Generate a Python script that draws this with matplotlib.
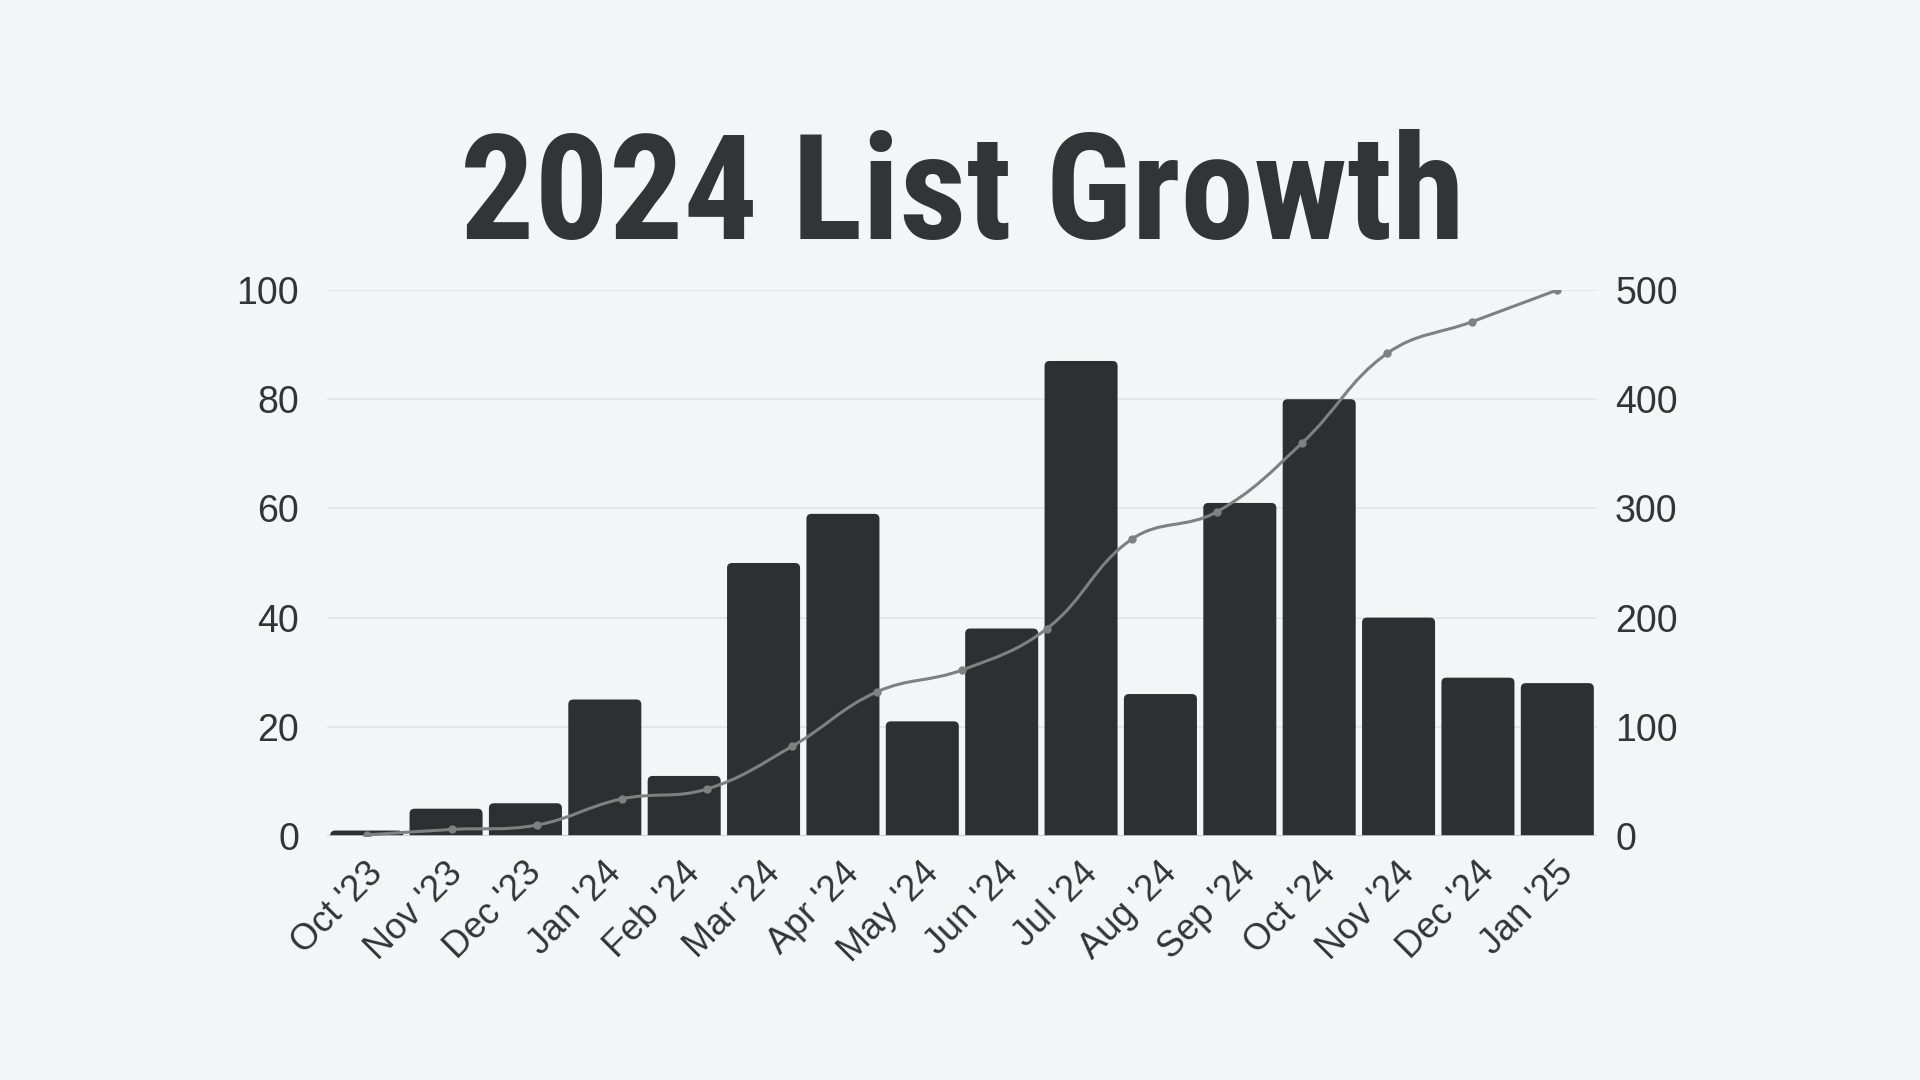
import matplotlib

matplotlib.use("Agg")
import matplotlib.pyplot as plt
import numpy as np
from matplotlib import font_manager
from matplotlib.path import Path
from matplotlib.patches import FancyBboxPatch, PathPatch
from matplotlib.transforms import ScaledTranslation

months = ["Oct '23", "Nov '23", "Dec '23", "Jan '24", "Feb '24", "Mar '24",
          "Apr '24", "May '24", "Jun '24", "Jul '24", "Aug '24", "Sep '24",
          "Oct '24", "Nov '24", "Dec '24", "Jan '25"]
new_subs = [1, 5, 6, 25, 11, 50, 59, 21, 38, 87, 26, 61, 80, 40, 29, 28]
# running total, 15 points drawn across the 16 month slots
total = [1, 6, 10, 34, 43, 82, 132, 152, 190, 272, 297, 360, 442, 471, 500]
left_ticks = [0, 20, 40, 60, 80, 100]
right_ticks = [0, 100, 200, 300, 400, 500]

BG = "#f4f5f7"
BAR = "#2e2f32"
LINE = "#808080"
TEXT = "#333436"
GRID = "#e4e5e7"


def pick_font(names):
    for name in names:
        try:
            font_manager.findfont(font_manager.FontProperties(family=name),
                                  fallback_to_default=False)
            return name
        except ValueError:
            continue
    return "DejaVu Sans"


title_font = pick_font(["Roboto Condensed", "Oswald", "Liberation Sans Narrow", "Roboto"])
body_font = pick_font(["Liberation Sans", "Roboto"])

plt.rcParams["font.family"] = [body_font, "DejaVu Sans"]

fig = plt.figure(figsize=(19.2, 10.8), dpi=100, facecolor=BG)
ax = fig.add_axes([327 / 1920, 1 - 836 / 1080, 1270 / 1920, 546 / 1080])
ax.set_facecolor(BG)
ax2 = ax.twinx()

x = np.arange(len(months))
ax.set_xlim(-0.5, len(months) - 0.5)
ax.set_ylim(0, 100)
ax2.set_ylim(0, 500)
bars = ax.bar(x, new_subs, width=0.92, color=BAR, zorder=2)

# round the top corners a little (bottom rounding falls below the axis and is clipped)
fig.canvas.draw()
px_x = ax.transData.transform((1, 0))[0] - ax.transData.transform((0, 0))[0]
px_y = ax.transData.transform((0, 1))[1] - ax.transData.transform((0, 0))[1]
radius = 5
for rect in bars:
    rect.set_visible(False)
    r_x = radius / px_x
    r_y = radius / px_y
    ax.add_patch(FancyBboxPatch((rect.get_x(), -r_y), rect.get_width(),
                                rect.get_height() + r_y,
                                boxstyle=f"round,pad=0,rounding_size={r_x}",
                                mutation_aspect=px_x / px_y,
                                facecolor=BAR, edgecolor="none", zorder=2))

ax.set_yticks(left_ticks)
ax.set_yticklabels([str(v) for v in left_ticks])
ax2.set_yticks(right_ticks)
ax2.set_yticklabels([str(v) for v in right_ticks])
ax.grid(axis="y", color=GRID, linewidth=1.3, zorder=0)
ax.set_axisbelow(True)

for a in (ax, ax2):
    for s in a.spines.values():
        s.set_visible(False)
    a.tick_params(axis="y", length=0, labelsize=27, labelcolor=TEXT)
ax.tick_params(axis="y", pad=20)
ax2.tick_params(axis="y", pad=13)
ax.axhline(0, color="#c9cacc", linewidth=1.2, zorder=3)

ax.set_xticks(x)
ax.set_xticklabels(months, rotation=45, ha="right", va="center",
                   rotation_mode="anchor")
ax.tick_params(axis="x", length=0, labelsize=26, labelcolor=TEXT, pad=23)
shift = ScaledTranslation(11 / 100, 0, fig.dpi_scale_trans)
for lab in ax.get_xticklabels():
    lab.set_transform(lab.get_transform() + shift)

# smooth line (Chart.js-style tension) as cubic Bezier segments
lx = np.linspace(0, len(months) - 1, len(total))
ax2.set_xlim(ax.get_xlim())
fig.canvas.draw()
pts = ax2.transData.transform(np.column_stack([lx, total]))
tension = 0.4
cps = []
for i in range(len(pts)):
    prev = pts[max(i - 1, 0)]
    cur = pts[i]
    nxt = pts[min(i + 1, len(pts) - 1)]
    d01 = np.hypot(*(cur - prev))
    d12 = np.hypot(*(nxt - cur))
    tot = d01 + d12 if d01 + d12 > 0 else 1
    fa = tension * d01 / tot
    fb = tension * d12 / tot
    cps.append((cur - fa * (nxt - prev), cur + fb * (nxt - prev)))
verts = [pts[0]]
codes = [Path.MOVETO]
for i in range(1, len(pts)):
    verts += [cps[i - 1][1], cps[i][0], pts[i]]
    codes += [Path.CURVE4] * 3
verts = ax2.transData.inverted().transform(np.array(verts))
ax2.add_patch(PathPatch(Path(verts, codes), facecolor="none", edgecolor=LINE,
                        linewidth=2.2, zorder=4))
ax2.plot(lx, total, linestyle="none", marker="o", markersize=5, color=LINE, zorder=5)

fig.text(962 / 1920, 1 - 239 / 1080, "2024 List Growth", family=title_font,
         fontweight="bold", fontsize=106, color=TEXT, ha="center", va="baseline")

fig.savefig("out.png", dpi=100, facecolor=BG)
plt.close(fig)
